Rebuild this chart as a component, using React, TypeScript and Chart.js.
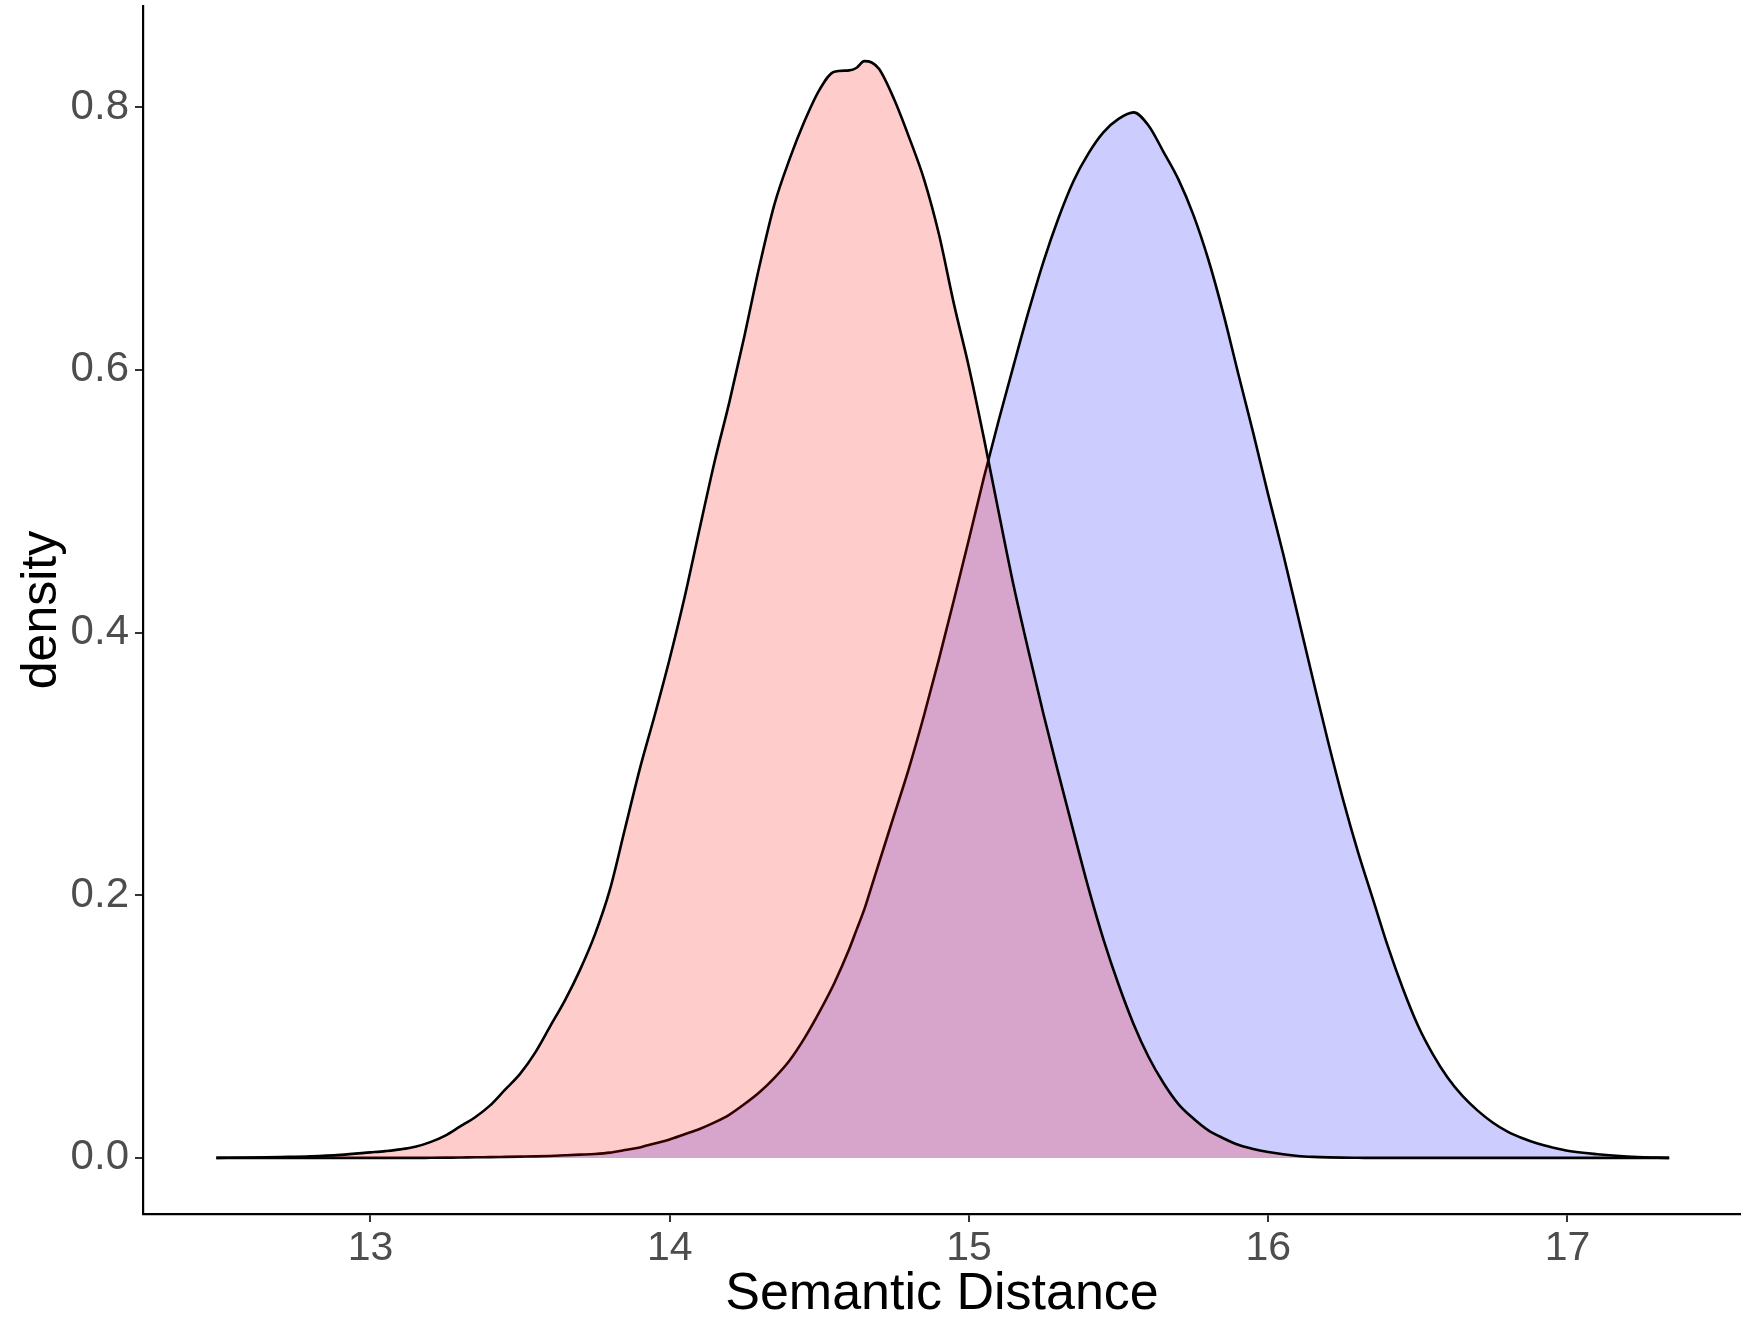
import React, { useEffect, useRef } from "react";
import { Chart, registerables } from "chart.js";

Chart.register(...registerables);

// x grid (Semantic Distance)
const xValues = [
  12.485, 12.6, 12.7, 12.8, 12.9,
  13.0, 13.05, 13.1, 13.15, 13.2, 13.25, 13.3, 13.35, 13.4, 13.45,
  13.5, 13.55, 13.6, 13.65, 13.7, 13.75, 13.8, 13.85, 13.9, 13.95,
  14.0, 14.05, 14.1, 14.15, 14.2, 14.25, 14.3, 14.35, 14.4, 14.45,
  14.5, 14.55, 14.6, 14.625, 14.65, 14.675, 14.7, 14.75, 14.8, 14.85, 14.9, 14.95,
  15.0, 15.05, 15.1, 15.15, 15.2, 15.25, 15.3, 15.35, 15.4, 15.45,
  15.5, 15.55, 15.6, 15.65, 15.7, 15.75, 15.8, 15.85, 15.9, 15.95,
  16.0, 16.05, 16.1, 16.15, 16.2, 16.25, 16.3, 16.35, 16.4, 16.45,
  16.5, 16.55, 16.6, 16.65, 16.7, 16.75, 16.8, 16.85, 16.9, 16.95,
  17.0, 17.1, 17.2, 17.3, 17.34,
];

// red group density
const redDensity = [
  0, 0.0003, 0.0007, 0.0012, 0.0023,
  0.0042, 0.0052, 0.0065, 0.0085, 0.012, 0.017, 0.024, 0.031, 0.040, 0.052,
  0.064, 0.080, 0.100, 0.120, 0.143, 0.170, 0.204, 0.250, 0.296, 0.337,
  0.380, 0.427, 0.479, 0.530, 0.576, 0.626, 0.679, 0.726, 0.760, 0.789,
  0.813, 0.827, 0.828, 0.830, 0.835, 0.834, 0.829, 0.806, 0.777, 0.745, 0.703, 0.650,
  0.602, 0.548, 0.491, 0.435, 0.385, 0.337, 0.292, 0.248, 0.205, 0.166,
  0.132, 0.102, 0.077, 0.057, 0.041, 0.030, 0.021, 0.015, 0.010, 0.0068,
  0.0045, 0.0028, 0.0015, 0.0008, 0.0004, 0.0002, 0.0001, 0, 0, 0,
  0, 0, 0, 0, 0, 0, 0, 0, 0, 0,
  0, 0, 0, 0, 0,
];

// blue group density
const blueDensity = [
  0, 0, 0, 0, 0,
  0, 0, 0, 0, 0.0001, 0.0002, 0.0003, 0.0005, 0.0006, 0.0008,
  0.001, 0.0012, 0.0015, 0.002, 0.0025, 0.003, 0.004, 0.006, 0.008, 0.011,
  0.014, 0.018, 0.022, 0.027, 0.033, 0.041, 0.050, 0.061, 0.074, 0.091,
  0.111, 0.133, 0.159, 0.174, 0.189, 0.207, 0.225, 0.261, 0.297, 0.337, 0.380, 0.425,
  0.471, 0.518, 0.562, 0.604, 0.645, 0.683, 0.716, 0.744, 0.765, 0.781,
  0.791, 0.796, 0.786, 0.766, 0.745, 0.718, 0.684, 0.643, 0.597, 0.552,
  0.505, 0.460, 0.412, 0.364, 0.317, 0.273, 0.233, 0.197, 0.161, 0.129,
  0.101, 0.079, 0.061, 0.047, 0.036, 0.027, 0.020, 0.015, 0.011, 0.008,
  0.0055, 0.0028, 0.0010, 0.0002, 0,
];

const xTicks = [13, 14, 15, 16, 17];
const yTicks = [0, 0.2, 0.4, 0.6, 0.8];

const FONT = "'Liberation Sans', Arial, Helvetica, sans-serif";

export default function App() {
  const ref = useRef<HTMLCanvasElement>(null);

  useEffect(() => {
    const canvas = ref.current;
    if (!canvas) return;
    const chart = new Chart(canvas, {
      type: "line",
      data: {
        datasets: [
          {
            label: "red",
            data: xValues.map((x, i) => ({ x, y: redDensity[i] })),
            borderColor: "#000000",
            backgroundColor: "rgba(255,0,0,0.2)",
            fill: "origin",
            borderWidth: 2.6,
            pointRadius: 0,
            cubicInterpolationMode: "monotone",
            order: 0,
          },
          {
            label: "blue",
            data: xValues.map((x, i) => ({ x, y: blueDensity[i] })),
            borderColor: "#000000",
            backgroundColor: "rgba(0,0,255,0.2)",
            fill: "origin",
            borderWidth: 2.6,
            pointRadius: 0,
            cubicInterpolationMode: "monotone",
            order: 1,
          },
        ],
      },
      options: {
        responsive: false,
        animation: false,
        devicePixelRatio: 1,
        layout: { padding: { top: 6, right: 0, bottom: 0, left: 0 } },
        plugins: {
          legend: { display: false },
          tooltip: { enabled: false },
        },
        scales: {
          x: {
            type: "linear",
            min: 12.24,
            max: 17.58,
            afterFit: (s: any) => {
              s.height = 112;
              s.paddingLeft = 0;
              s.paddingRight = 0;
            },
            afterBuildTicks: (s: any) => {
              s.ticks = xTicks.map((v) => ({ value: v }));
            },
            ticks: {
              font: { family: FONT, size: 41 },
              color: "#4D4D4D",
              padding: 2,
              maxRotation: 0,
              autoSkip: false,
              callback: (v: any) => String(v),
            },
            grid: {
              display: true,
              drawOnChartArea: false,
              drawTicks: true,
              tickLength: 8,
              color: "#333333",
              lineWidth: 2,
            },
            border: { display: true, color: "#000000", width: 2.2 },
            title: {
              display: true,
              text: "Semantic Distance",
              color: "#000000",
              font: { family: FONT, size: 52 },
              padding: { top: 0, bottom: 0 },
            },
          },
          y: {
            type: "linear",
            min: -0.0427,
            max: 0.877,
            afterFit: (s: any) => {
              s.width = 143;
              s.paddingTop = 0;
              s.paddingBottom = 0;
            },
            afterBuildTicks: (s: any) => {
              s.ticks = yTicks.map((v) => ({ value: v }));
            },
            ticks: {
              font: { family: FONT, size: 42 },
              color: "#4D4D4D",
              padding: 6,
              autoSkip: false,
              callback: (v: any) => Number(v).toFixed(1),
            },
            grid: {
              display: true,
              drawOnChartArea: false,
              drawTicks: true,
              tickLength: 8,
              color: "#333333",
              lineWidth: 2,
            },
            border: { display: true, color: "#000000", width: 2.2 },
            title: {
              display: true,
              text: "density",
              color: "#000000",
              font: { family: FONT, size: 50 },
              padding: { top: 12, bottom: 0 },
            },
          },
        },
      },
    });
    return () => chart.destroy();
  }, []);

  return (
    <div
      style={{
        position: "fixed",
        left: 0,
        top: 0,
        width: 1741,
        height: 1326,
        background: "#ffffff",
      }}
    >
      <canvas
        ref={ref}
        width={1741}
        height={1326}
        style={{ display: "block", width: 1741, height: 1326 }}
      />
    </div>
  );
}
